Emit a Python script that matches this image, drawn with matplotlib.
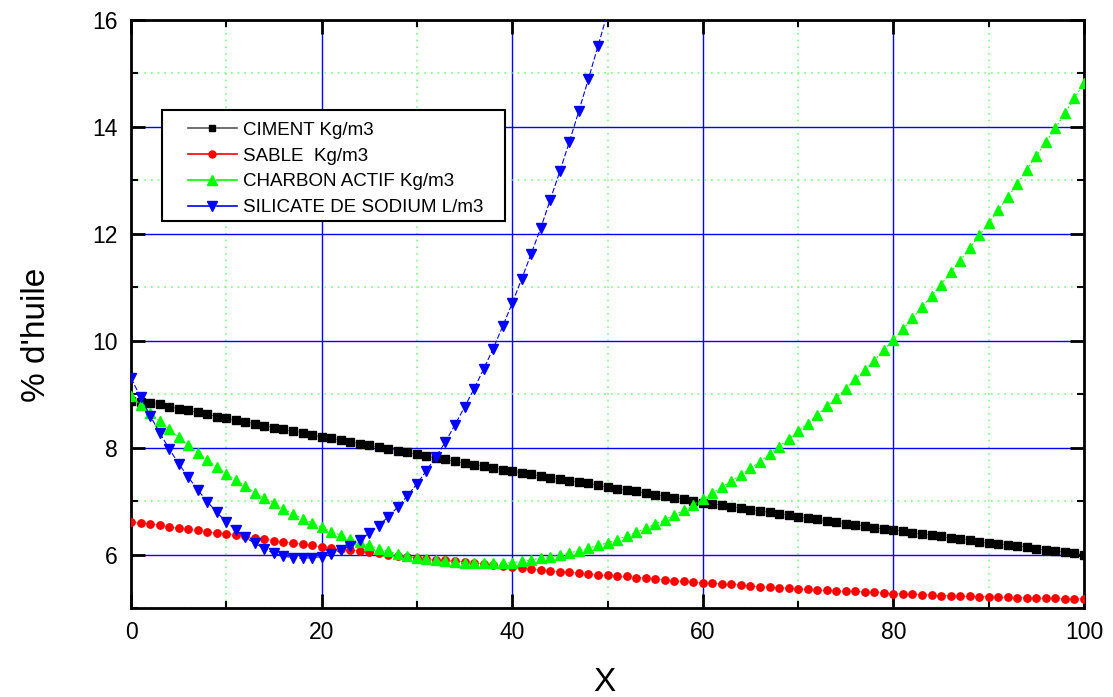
import matplotlib
matplotlib.use("Agg")
import matplotlib.pyplot as plt
from matplotlib.lines import Line2D
from matplotlib.patches import Rectangle
from matplotlib.legend_handler import HandlerBase
from matplotlib.ticker import MultipleLocator

plt.rcParams['font.family'] = ['Liberation Sans', 'DejaVu Sans']

x_all = list(range(0, 101))
x_silicate = list(range(0, 51))

ciment = [8.88, 8.85, 8.83, 8.81, 8.76, 8.73, 8.70, 8.66, 8.63, 8.58,
          8.55, 8.52, 8.48, 8.45, 8.41, 8.37, 8.34, 8.31, 8.28, 8.24,
          8.20, 8.18, 8.14, 8.11, 8.07, 8.04, 8.01, 7.98, 7.94, 7.91,
          7.88, 7.84, 7.81, 7.78, 7.75, 7.71, 7.68, 7.65, 7.62, 7.59,
          7.56, 7.53, 7.50, 7.47, 7.44, 7.41, 7.38, 7.35, 7.33, 7.30,
          7.26, 7.23, 7.20, 7.18, 7.15, 7.12, 7.10, 7.06, 7.03, 7.00,
          6.97, 6.95, 6.92, 6.89, 6.87, 6.84, 6.81, 6.79, 6.76, 6.74,
          6.71, 6.69, 6.66, 6.63, 6.60, 6.58, 6.55, 6.53, 6.50, 6.48,
          6.46, 6.44, 6.41, 6.39, 6.36, 6.34, 6.31, 6.29, 6.27, 6.24,
          6.22, 6.20, 6.18, 6.16, 6.14, 6.11, 6.09, 6.07, 6.05, 6.02,
          6.00]

sable = [6.61, 6.59, 6.57, 6.55, 6.52, 6.50, 6.47, 6.45, 6.43, 6.40,
         6.38, 6.36, 6.34, 6.31, 6.29, 6.26, 6.24, 6.22, 6.19, 6.17,
         6.15, 6.13, 6.11, 6.09, 6.06, 6.04, 6.02, 6.00, 5.98, 5.96,
         5.94, 5.92, 5.90, 5.89, 5.88, 5.86, 5.84, 5.82, 5.80, 5.78,
         5.76, 5.75, 5.73, 5.72, 5.70, 5.68, 5.67, 5.65, 5.63, 5.62,
         5.61, 5.60, 5.59, 5.57, 5.56, 5.54, 5.53, 5.51, 5.50, 5.48,
         5.47, 5.46, 5.45, 5.44, 5.43, 5.41, 5.40, 5.39, 5.38, 5.37,
         5.36, 5.35, 5.34, 5.33, 5.32, 5.31, 5.31, 5.30, 5.29, 5.28,
         5.27, 5.26, 5.26, 5.25, 5.24, 5.23, 5.23, 5.22, 5.22, 5.21,
         5.21, 5.20, 5.20, 5.19, 5.19, 5.18, 5.18, 5.18, 5.17, 5.17,
         5.17]

charbon = [8.96, 8.80, 8.65, 8.49, 8.34, 8.19, 8.04, 7.90, 7.77, 7.64,
           7.51, 7.40, 7.28, 7.16, 7.06, 6.96, 6.86, 6.76, 6.67, 6.59,
           6.51, 6.43, 6.36, 6.29, 6.23, 6.17, 6.11, 6.06, 6.01, 5.97,
           5.94, 5.91, 5.89, 5.88, 5.86, 5.85, 5.84, 5.84, 5.84, 5.84,
           5.85, 5.87, 5.90, 5.93, 5.96, 5.99, 6.03, 6.07, 6.12, 6.17,
           6.22, 6.28, 6.35, 6.42, 6.49, 6.57, 6.65, 6.74, 6.83, 6.93,
           7.03, 7.15, 7.26, 7.38, 7.49, 7.61, 7.74, 7.88, 8.02, 8.16,
           8.31, 8.45, 8.61, 8.77, 8.93, 9.10, 9.28, 9.45, 9.63, 9.83,
           10.02, 10.22, 10.42, 10.63, 10.84, 11.05, 11.28, 11.50, 11.73, 11.97,
           12.20, 12.44, 12.69, 12.93, 13.20, 13.46, 13.71, 13.98, 14.26, 14.54,
           14.82]

silicate = [9.30, 8.95, 8.60, 8.28, 7.98, 7.70, 7.45, 7.21, 6.99, 6.79,
            6.61, 6.46, 6.32, 6.21, 6.11, 6.02, 5.97, 5.94, 5.93, 5.94,
            5.96, 6.01, 6.08, 6.16, 6.27, 6.40, 6.54, 6.71, 6.89, 7.10,
            7.32, 7.57, 7.83, 8.11, 8.43, 8.76, 9.10, 9.47, 9.85, 10.27,
            10.70, 11.16, 11.63, 12.11, 12.64, 13.17, 13.72, 14.30, 14.90, 15.51,
            16.13]

labels = ["CIMENT Kg/m3", "SABLE  Kg/m3", "CHARBON ACTIF Kg/m3",
          "SILICATE DE SODIUM L/m3"]
x_ticks = [0, 20, 40, 60, 80, 100]
y_ticks = [6, 8, 10, 12, 14, 16]

fig = plt.figure(figsize=(11.13, 6.97), dpi=100)
ax = fig.add_axes([131/1113, 89/697, 953/1113, 588/697])

ax.set_xlim(0, 100)
ax.set_ylim(5, 16)
ax.set_xticks(x_ticks)
ax.set_yticks(y_ticks)
ax.xaxis.set_minor_locator(MultipleLocator(10))
ax.yaxis.set_minor_locator(MultipleLocator(1))

ax.grid(which='major', color='#0000ff', linestyle='-', linewidth=1.0, zorder=0)
ax.grid(which='minor', color='#7fff7f', linestyle=(0, (1, 3)), linewidth=1.2, zorder=0)
ax.set_axisbelow(True)

l1, = ax.plot(x_all, ciment, color='#000000', lw=0.3, marker='s', ms=5.2,
              mec='#000000', mfc='#000000', zorder=3)
l2, = ax.plot(x_all, sable, color='#ff0000', lw=0.3, marker='o', ms=5.3,
              mec='#ff0000', mfc='#ff0000', zorder=4)
l3, = ax.plot(x_all, charbon, color='#00ff00', lw=0.7, ls=(0, (2, 2)),
              marker='^', ms=7.5, mec='#00ff00', mfc='#00ff00', zorder=5)
l4, = ax.plot(x_silicate, silicate, color='#0000ff', lw=0.8, ls=(0, (5, 2)),
              marker='v', ms=7.5, mec='#0000ff', mfc='#0000ff', zorder=6)

for s in ax.spines.values():
    s.set_linewidth(2)
    s.set_color('black')

ax.tick_params(which='both', direction='in', top=True, right=True,
               labelsize=16.5, colors='black')
ax.tick_params(which='major', length=10, width=2, pad=9.5)
ax.tick_params(which='minor', length=5, width=1.5)

ax.set_xlabel("X", fontsize=24)
ax.xaxis.set_label_coords(0.4963, -0.100)
ax.set_ylabel("% d'huile", fontsize=24)
ax.yaxis.set_label_coords(-0.083, 0.464)


class GapHandler(HandlerBase):
    def create_artists(self, legend, orig_handle, xdescent, ydescent,
                       width, height, fontsize, trans):
        y = height / 2.0 - ydescent
        x0 = -xdescent
        x1 = x0 + width
        xm = (x0 + x1) / 2.0
        gap = width * 0.10
        col = orig_handle.get_color()
        lc = '#555555' if col == '#000000' else col
        a = Line2D([x0, xm], [y, y], color=lc, lw=1.2)
        b = Line2D([xm + gap, x1], [y, y], color=lc, lw=1.2)
        m = Line2D([xm], [y], marker=orig_handle.get_marker(),
                   ms=orig_handle.get_markersize() * 0.95,
                   mfc=orig_handle.get_markerfacecolor(),
                   mec=orig_handle.get_markeredgecolor(), ls='none')
        for art in (a, b, m):
            art.set_transform(trans)
        return [a, b, m]


# legend frame
frame = Rectangle((31/953, (608-221)/588), 343/953, 111/588,
                  transform=ax.transAxes, facecolor='white', edgecolor='black',
                  linewidth=1.5, zorder=9, clip_on=False)
ax.add_patch(frame)

handler = GapHandler()
leg = ax.legend([l1, l2, l3, l4], labels, loc='upper left',
                bbox_to_anchor=((188-131)/953, (608-121.5)/588), borderaxespad=0,
                borderpad=0, fontsize=13.5, frameon=False,
                handlelength=2.61, handletextpad=0.32, labelspacing=0.47,
                handler_map={l1: handler, l2: handler, l3: handler, l4: handler})
leg.set_zorder(10)

fig.savefig("out.png", dpi=100)
